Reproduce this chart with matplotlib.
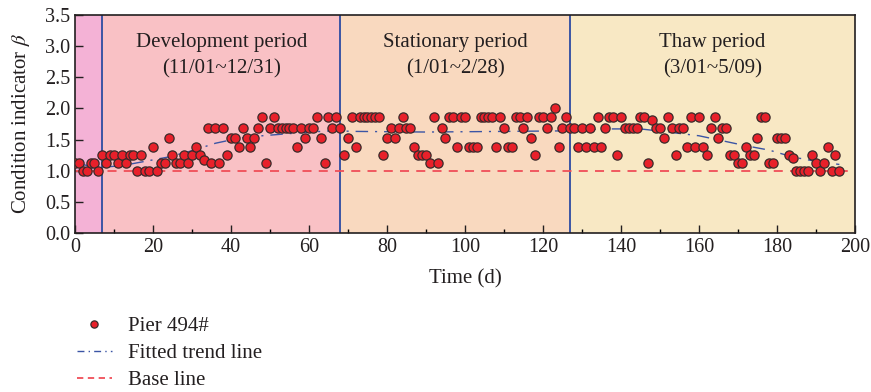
import numpy as np
import matplotlib
matplotlib.use("Agg")
import matplotlib.pyplot as plt
from matplotlib.lines import Line2D

plt.rcParams['font.family'] = ['Liberation Serif', 'DejaVu Serif']
plt.rcParams['mathtext.fontset'] = 'stix'

# condition indicator levels seen in the picture
L0, L1, L2, L3, L4, L5, L6, L7 = 1.0, 1.125, 1.25, 1.375, 1.53, 1.69, 1.86, 2.01

days = np.arange(0, 197)
beta = [
    L1, L1, L0, L0, L1, L1, L0, L2, L1, L2,        # 0-9
    L2, L1, L2, L1, L2, L2, L0, L2, L0, L0,        # 10-19
    L3, L0, L1, L1, L4, L2, L1, L1, L2, L1,        # 20-29
    L2, L3, L2, 1.17, L5, L1, L5, L1, L5, L2,      # 30-39
    L4, L4, L3, L5, L4, L3, L4, L5, L6, L1,        # 40-49
    L5, L6, L5, L5, L5, L5, L5, L3, L5, L4,        # 50-59
    L5, L5, L6, L4, L1, L6, L5, L6, L5, L2,        # 60-69
    L4, L6, L3, L6, L6, L6, L6, L6, L6, L2,        # 70-79
    L4, L5, L4, L5, L6, L5, L5, L3, L2, L2,        # 80-89
    L2, L1, L6, L1, L5, L4, L6, L6, L3, L6,        # 90-99
    L6, L3, L3, L3, L6, L6, L6, L6, L3, L6,        # 100-109
    L5, L3, L3, L6, L6, L5, L6, L4, L2, L6,        # 110-119
    L6, L5, L6, L7, L3, L5, L6, L5, L5, L3,        # 120-129
    L5, L3, L5, L3, L6, L3, L5, L6, L6, L2,        # 130-139
    L6, L5, L5, L5, L5, L6, L6, L1, 1.81, L5,      # 140-149
    L5, L4, L6, L5, L2, L5, L5, L3, L6, L3,        # 150-159
    L6, L3, L2, L5, L6, L4, L5, L5, L2, L2,        # 160-169
    L1, L1, L3, L2, L2, L4, L6, L6, L1, L1,        # 170-179
    L4, L4, L4, L2, 1.21, L0, L0, L0, L0, L2,      # 180-189
    L1, L0, L1, L3, L0, L2, L0,                    # 190-196
]

# fitted trend line
trend_days = [0, 6, 12, 18, 24, 30, 36, 42, 48, 54, 60, 66, 72, 90, 110,
              128, 135, 145, 152, 160, 166, 172, 178, 184, 190, 196]
trend_vals = [1.12, 1.05, 1.08, 1.15, 1.22, 1.32, 1.44, 1.52, 1.56, 1.59, 1.62,
              1.64, 1.63, 1.62, 1.63, 1.64, 1.67, 1.67, 1.62, 1.56, 1.48, 1.40,
              1.33, 1.22, 1.15, 1.10]

# periods: start, end, colour, title, dates
bounds = [0, 7, 68, 127, 200]
period_colors = ['#f4b2d6', '#f9c1c5', '#f9d9bf', '#f8e8c4']
period_names = ['', 'Development period', 'Stationary period', 'Thaw period']
period_dates = ['', '(11/01~12/31)', '(1/01~2/28)', '(3/01~5/09)']

fs = 15
fig = plt.figure(figsize=(8.71, 3.92), dpi=100)
ax = fig.add_axes([0.0861, 0.4056, 0.8955, 0.5565])

for i in range(4):
    ax.axvspan(bounds[i], bounds[i + 1], color=period_colors[i], lw=0, zorder=0)
    if period_names[i]:
        mid = (bounds[i] + bounds[i + 1]) / 2
        ax.text(mid, 3.05, period_names[i], ha='center', va='center', fontsize=fs, color='#231f20')
        ax.text(mid, 2.64, period_dates[i], ha='center', va='center', fontsize=fs, color='#231f20')
for b in bounds[1:4]:
    ax.axvline(b, color='#3b55a5', lw=1.4, zorder=1)

ax.axhline(1.0, color='#f04e58', lw=1.3, ls=(0, (5, 4)), zorder=2)
ax.plot(trend_days, trend_vals, color='#3b55a5', lw=1.0, ls=(0, (9, 5, 1.5, 5)), zorder=2)
ax.scatter(days, beta, s=44, color='#e8202a', edgecolor='#3a2a2a', linewidth=0.9, zorder=3)

ax.set_xlim(0, 200)
ax.set_ylim(0, 3.5)
ax.set_xticks(np.arange(0, 201, 20))
ax.set_xticks(np.arange(0, 201, 10), minor=True)
ax.set_yticks(np.arange(0, 3.51, 0.5))
ax.yaxis.set_major_formatter(matplotlib.ticker.FormatStrFormatter('%.1f'))
ax.tick_params(axis='both', which='major', direction='in', length=6, width=1, labelsize=14.5,
               colors='#231f20', top=False, right=False)
ax.tick_params(axis='x', which='minor', direction='in', length=3, width=1, top=False)
for sp in ax.spines.values():
    sp.set_color('#231f20')
    sp.set_linewidth(1.2)

ax.set_xlabel('Time (d)', fontsize=fs, color='#231f20', labelpad=9)
ax.set_ylabel('Condition indicator $\\beta$', fontsize=fs, color='#231f20', labelpad=9)

handles = [
    Line2D([], [], ls='none', marker='o', markersize=5.2, markerfacecolor='#e8202a',
           markeredgecolor='#3a2a2a', markeredgewidth=0.9),
    Line2D([], [], color='#3b55a5', lw=1.0, ls=(0, (5, 3, 1, 3))),
    Line2D([], [], color='#f04e58', lw=1.3, ls=(0, (3.5, 2.5))),
]
labels = ['Pier 494#', 'Fitted trend line', 'Base line']
fig.legend(handles, labels, loc='upper left', bbox_to_anchor=(0.088, 0.192), frameon=False,
           fontsize=fs, handlelength=1.7, handletextpad=0.75, labelspacing=0.35,
           labelcolor='#231f20', borderaxespad=0, borderpad=0)

fig.savefig('out.png', dpi=100)
